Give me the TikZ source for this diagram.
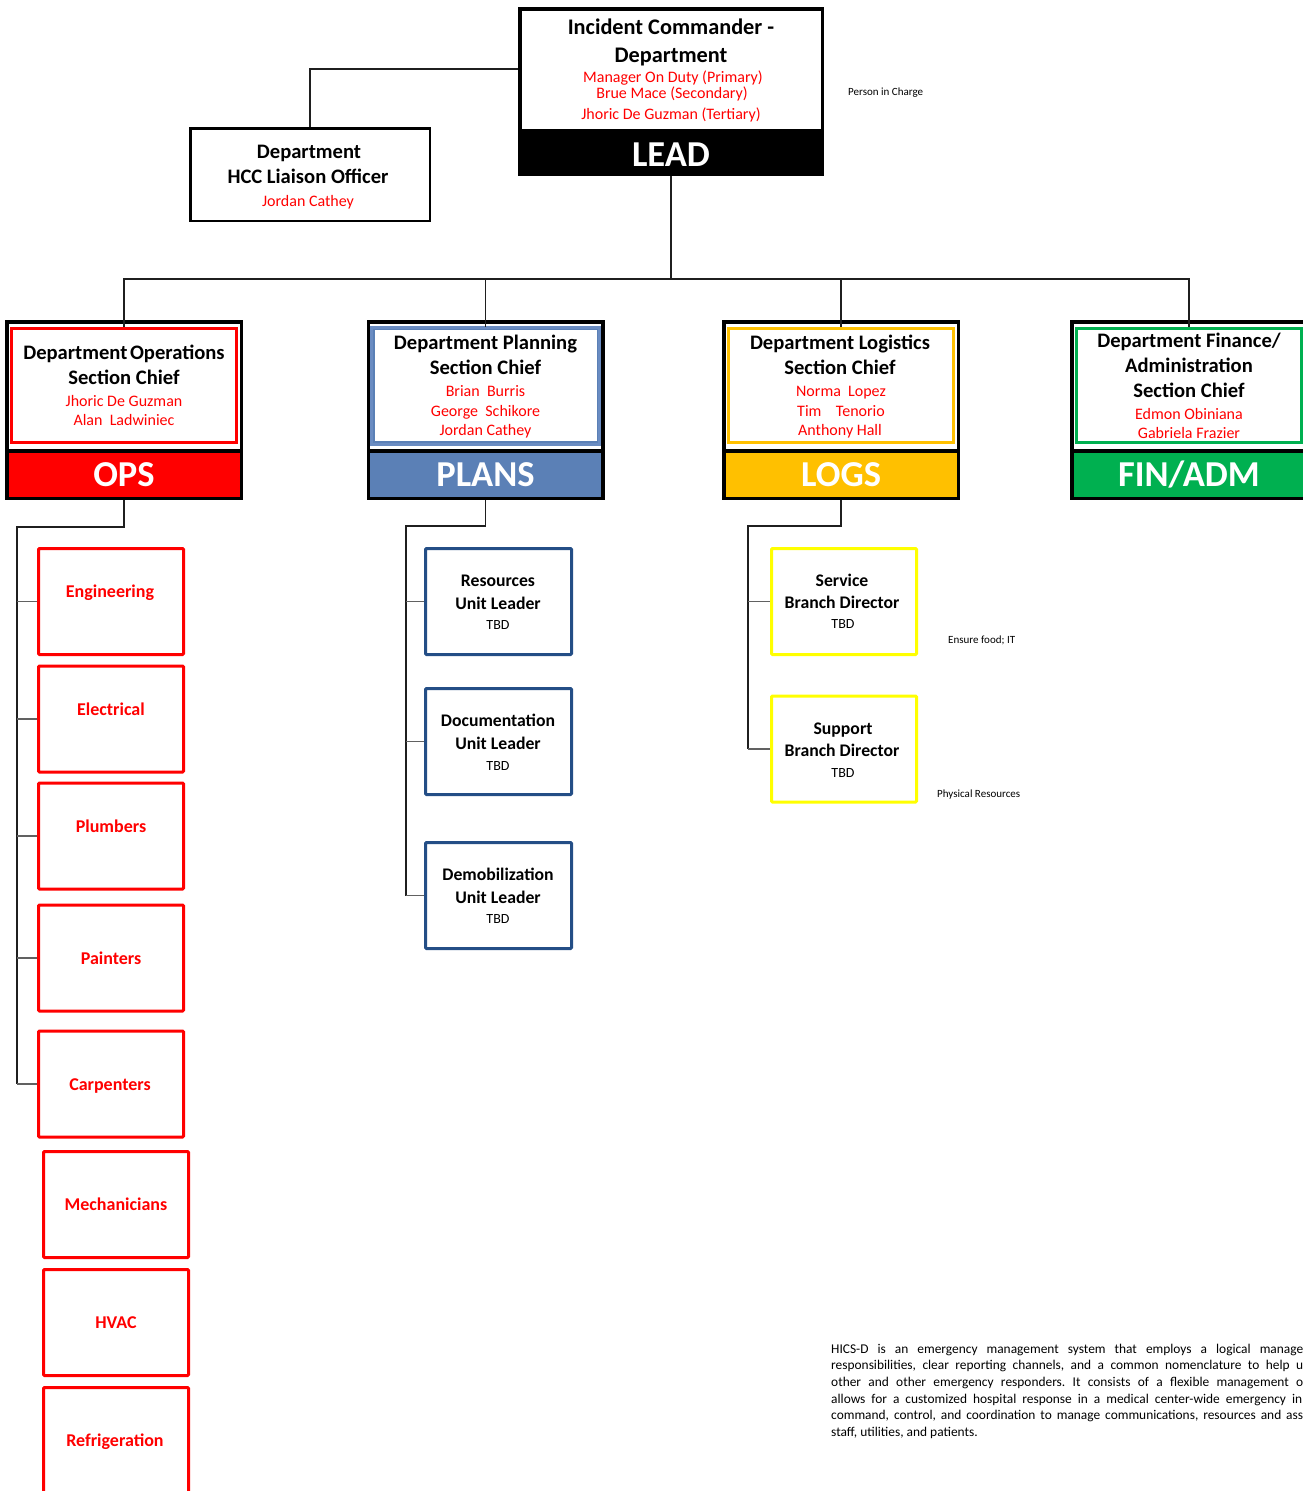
\documentclass[tikz,border=0pt]{standalone}
\usepackage{fontspec}
\setmainfont{Carlito}
\frenchspacing
\definecolor{opsred}{HTML}{FF0000}
\definecolor{planblue}{HTML}{5B80B6}
\definecolor{planinner}{HTML}{6A8CC2}
\definecolor{darkblue}{HTML}{244E86}
\definecolor{logsgold}{HTML}{FFC000}
\definecolor{svcyellow}{HTML}{FFFF00}
\definecolor{fingreen}{HTML}{00B050}
\newcommand\mksec[3]{%
  \node[box, line width=3.5pt, minimum width=234.5pt, minimum height=176.5pt] (#1) at (#2,410) {};
  \node[box, draw=#3, line width=3pt, minimum width=225pt, minimum height=114pt] (#1i) at (#2,385.5) {};
  \node[box, fill=#3, line width=3.5pt, minimum width=234.5pt, minimum height=47.5pt] (#1b) at (#2,474.5) {};
}
\begin{document}
\begin{tikzpicture}[x=1pt,y=-1pt,
  box/.style={draw=black, rectangle, inner sep=0pt, fill=white},
  txt/.style={anchor=base, inner sep=0pt, align=center},
  hB/.style={font=\bfseries\fontsize{22.3}{26}\selectfont},
  sB/.style={font=\bfseries\fontsize{20.6}{24}\selectfont},
  rN/.style={font=\fontsize{16}{19}\selectfont, text=opsred},
  bandtxt/.style={font=\bfseries\fontsize{36.5}{40}\selectfont, text=white},
  cB/.style={font=\bfseries\fontsize{17.7}{20}\selectfont},
  cR/.style={font=\bfseries\fontsize{18}{20}\selectfont, text=opsred},
  tbd/.style={font=\fontsize{14}{16}\selectfont},
  note/.style={anchor=base west, inner sep=0pt, font=\fontsize{11}{12}\selectfont},
  para/.style={anchor=base west, inner sep=0pt, font=\fontsize{13.4}{16}\selectfont},
  opsbox/.style={box, draw=opsred, line width=3pt, rounded corners=1pt, minimum width=145pt, minimum height=106pt},
  planbox/.style={box, draw=darkblue, line width=3pt, rounded corners=1pt, minimum width=146pt, minimum height=106pt},
  logbox/.style={box, draw=svcyellow, line width=3pt, rounded corners=1pt, minimum width=145pt, minimum height=106pt},
  conn/.style={draw=black!88, line width=1.4pt},
  branch/.style={draw=black!62, line width=1.4pt}]
\useasboundingbox (0,0) rectangle (1303,1491);
\clip (0,0) rectangle (1303,1491);

% ---------- LEAD ----------
\node[box, line width=3.5pt, minimum width=302.5pt, minimum height=165.5pt] (lead) at (671,91.5) {};
\node[fill=black, inner sep=0pt, minimum width=306pt, minimum height=47pt] (leadband) at (671,152.5) {};
\node[txt,hB] (leadt1) at (671,34) {Incident Commander -};
\node[txt,hB] (leadt2) at (671,62) {Department};
\node[txt,rN] (leadt3) at (673,82) {Manager On Duty (Primary)};
\node[txt,rN] (leadt4) at (672,98) {Brue Mace (Secondary)};
\node[txt,rN] (leadt5) at (671,119) {Jhoric De Guzman (Tertiary)};
\node[txt,bandtxt] (leadt6) at (671,166) {LEAD};
\node[note] (pic) at (848,95) {Person in Charge};

% ---------- Liaison ----------
\node[box, line width=2.5pt, minimum width=239.5pt, minimum height=92.5pt] (li) at (310,174.5) {};
\node[txt,sB] (lit1) at (309,158) {Department};
\node[txt,sB] (lit2) at (308,183) {HCC Liaison Officer};
\node[txt,rN] (lit3) at (308,206) {Jordan Cathey};

% ---------- Sections ----------
\mksec{ops}{124}{opsred}
\mksec{plans}{485.5}{planblue}
\mksec{logs}{841}{logsgold}
\mksec{fin}{1189}{fingreen}
\draw[planinner, line width=3pt] (plansi.north west) rectangle (plansi.south east);

\node[txt,sB] (opst1) at (124,359) {Department\kern-0.1em\ Operations};
\node[txt,sB] (opst2) at (124,384) {Section Chief};
\node[txt,rN] (opst3) at (124,406) {Jhoric De Guzman};
\node[txt,rN] (opst4) at (124,425) {Alan\ \ Ladwiniec};
\node[txt,bandtxt] (opst5) at (124,486) {OPS};

\node[txt,sB] (planst1) at (485.5,349) {Department Planning};
\node[txt,sB] (planst2) at (485.5,374) {Section Chief};
\node[txt,rN] (planst3) at (485.5,396) {Brian\ \ Burris};
\node[txt,rN] (planst4) at (485.5,416) {George\ \ Schikore};
\node[txt,rN] (planst5) at (485.5,435) {Jordan Cathey};
\node[txt,bandtxt] (planst6) at (485.5,486) {PLANS};

\node[txt,sB] (logst1) at (840,349) {Department Logistics};
\node[txt,sB] (logst2) at (840,374) {Section Chief};
\node[txt,rN] (logst3) at (841,396) {Norma\ \ Lopez};
\node[txt,rN] (logst4) at (841,416) {Tim\ \ \ \ Tenorio};
\node[txt,rN] (logst5) at (840,435) {Anthony Hall};
\node[txt,bandtxt] (logst6) at (841,486) {LOGS};

\node[txt,sB] (fint1) at (1189,347) {Department Finance/};
\node[txt,sB] (fint2) at (1189,372) {Administration};
\node[txt,sB] (fint3) at (1189,397) {Section Chief};
\node[txt,rN] (fint4) at (1189,419) {Edmon Obiniana};
\node[txt,rN] (fint5) at (1189,438) {Gabriela Frazier};
\node[txt,bandtxt] (fint6) at (1189,486) {FIN/ADM};

% ---------- OPS children ----------
\node[opsbox] (eng) at (111,601.5) {};
\node[opsbox] (elec) at (111,719) {};
\node[opsbox] (plumb) at (111,836) {};
\node[opsbox] (paint) at (111,958) {};
\node[opsbox] (carp) at (111,1084) {};
\node[opsbox] (mech) at (116,1204.5) {};
\node[opsbox] (hvac) at (116,1322.5) {};
\node[opsbox] (refr) at (116,1440.5) {};
\node[txt,cR] (engt) at (110,597) {Engineering};
\node[txt,cR] (elect) at (111,715) {Electrical};
\node[txt,cR] (plumbt) at (111,832) {Plumbers};
\node[txt,cR] (paintt) at (111,964) {Painters};
\node[txt,cR] (carpt) at (110,1090) {Carpenters};
\node[txt,cR] (mecht) at (116,1210) {Mechanicians};
\node[txt,cR] (hvact) at (116,1328) {HVAC};
\node[txt,cR] (refrt) at (115,1446) {Refrigeration};

% ---------- PLANS children ----------
\node[planbox] (res) at (498.5,601.5) {};
\node[planbox] (doc) at (498.5,741.5) {};
\node[planbox] (demob) at (498.5,895.5) {};
\node[txt,cB] (rest1) at (498,586) {Resources};
\node[txt,cB] (rest2) at (498,609) {Unit Leader};
\node[txt,tbd] (rest3) at (498,629) {TBD};
\node[txt,cB] (doct1) at (498,726) {Documentation};
\node[txt,cB] (doct2) at (498,749) {Unit Leader};
\node[txt,tbd] (doct3) at (498,770) {TBD};
\node[txt,cB] (demobt1) at (498,880) {Demobilization};
\node[txt,cB] (demobt2) at (498,903) {Unit Leader};
\node[txt,tbd] (demobt3) at (498,923) {TBD};

% ---------- LOGS children ----------
\node[logbox] (svc) at (844,601.5) {};
\node[logbox] (sup) at (844,749) {};
\node[txt,cB] (svct1) at (842,586) {Service};
\node[txt,cB] (svct2) at (842,608) {Branch Director};
\node[txt,tbd] (svct3) at (843,628) {TBD};
\node[txt,cB] (supt1) at (843,734) {Support};
\node[txt,cB] (supt2) at (842,756) {Branch Director};
\node[txt,tbd] (supt3) at (843,777) {TBD};
\node[note] (svcnote) at (948,643) {Ensure food; IT};
\node[note] (supnote) at (937,797) {Physical Resources};

% ---------- paragraph ----------
\node[para] (p1) at (831,1353) {\makebox[472pt][s]{HICS-D is an emergency management system that employs a logical manage}};
\node[para] (p2) at (831,1369.7) {\makebox[472pt][s]{responsibilities, clear reporting channels, and a common nomenclature to help u}};
\node[para] (p3) at (831,1386.4) {\makebox[472pt][s]{other and other emergency responders. It consists of a flexible management o}};
\node[para] (p4) at (831,1403.1) {\makebox[471pt][s]{allows for a customized hospital response in a medical center-wide emergency in}};
\node[para] (p5) at (831,1419.8) {\makebox[472pt][s]{command, control, and coordination to manage communications, resources and ass}};
\node[para] (p6) at (831,1436.5) {staff, utilities, and patients.};

% ---------- connectors ----------
\coordinate (ljy) at (0,69);
\coordinate (lj) at (lead.west |- ljy);
\draw[conn] (li.north) |- (lj);
\coordinate (bus) at (671,279);
\draw[conn] (leadband.south) -- (bus);
\draw[conn] (opsi.north) |- (bus);
\draw[conn] (plansi.north) |- (bus);
\draw[conn] (logsi.north) |- (bus);
\draw[conn] (fini.north) |- (bus);

\coordinate (opsj) at (17,527);
\draw[conn] (opsb.south) |- (opsj) -- (opsj |- carp.west);
\draw[branch] (opsj |- eng.west) -- (eng.west);
\draw[branch] (opsj |- elec.west) -- (elec.west);
\draw[branch] (opsj |- plumb.west) -- (plumb.west);
\draw[branch] (opsj |- paint.west) -- (paint.west);
\draw[branch] (opsj |- carp.west) -- (carp.west);

\coordinate (planj) at (406,526);
\draw[conn] (plansb.south) |- (planj) -- (planj |- demob.west);
\draw[branch] (planj |- res.west) -- (res.west);
\draw[branch] (planj |- doc.west) -- (doc.west);
\draw[branch] (planj |- demob.west) -- (demob.west);

\coordinate (logj) at (748,526);
\draw[conn] (logsb.south) |- (logj) -- (logj |- sup.west);
\draw[branch] (logj |- svc.west) -- (svc.west);
\draw[branch] (logj |- sup.west) -- (sup.west);
\end{tikzpicture}
\end{document}
